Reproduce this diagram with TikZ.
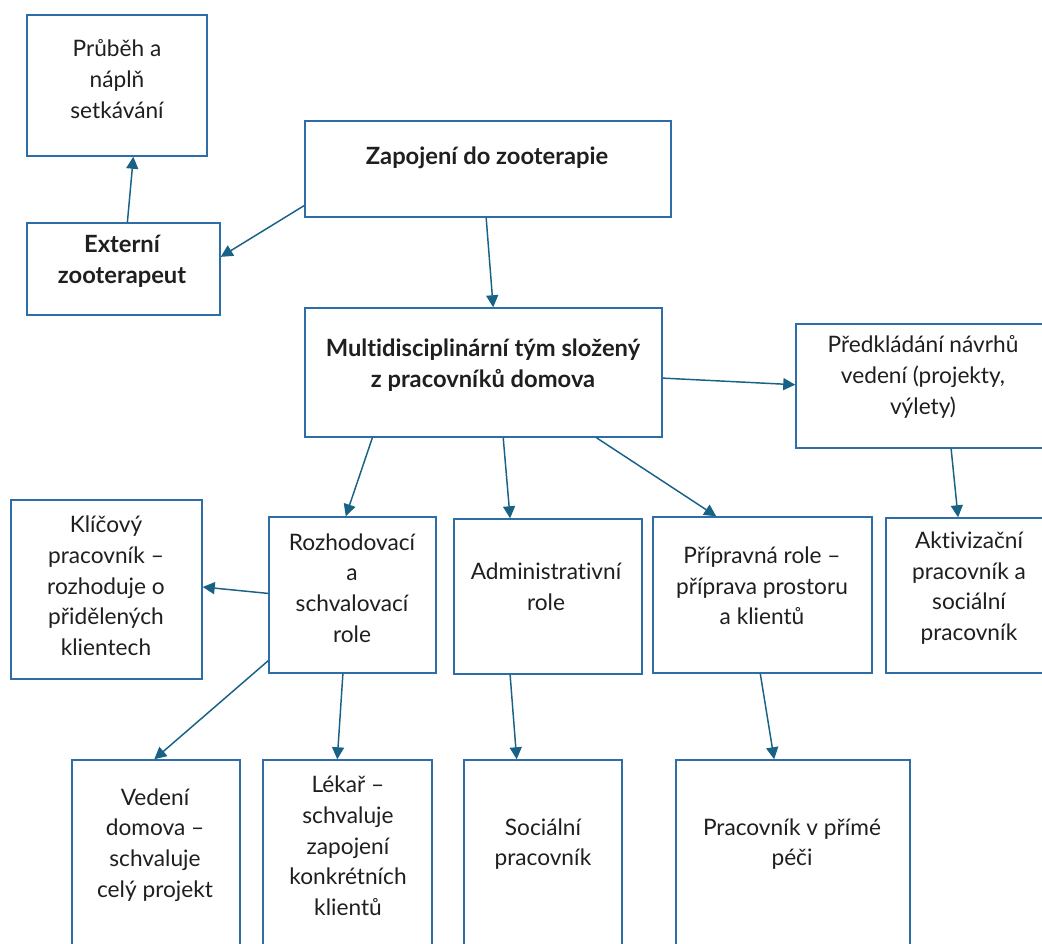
\documentclass[tikz,border=0pt]{standalone}
\usepackage{fontspec}
\setmainfont{Lato}[Ligatures=NoCommon]
\usetikzlibrary{arrows.meta,calc,fit}

\definecolor{boxblue}{RGB}{46,110,168}
\definecolor{arrowteal}{RGB}{24,98,134}

\tikzset{
  box/.style={draw=boxblue, line width=1.1pt, inner sep=0pt, fill=white},
  txt/.style={align=center, inner sep=0pt, text=black!88,
    font=\fontsize{17}{23}\selectfont},
  bold/.style={font=\fontsize{17.8}{23.5}\selectfont\bfseries},
  link/.style={draw=arrowteal, line width=1.1pt,
    -{Triangle[length=9pt,width=9pt]}},
}

\begin{document}
\begin{tikzpicture}[x=0.75pt, y=-0.75pt]
\useasboundingbox (0,0) rectangle (1042,944);
\clip (0,0) rectangle (1042,944);
\fill[white] (0,0) rectangle (1042,944);

% boxes
\node[box, fit={(27,15)(207,156)}]   (pru)  {};
\node[box, fit={(27,223)(220,315)}]  (ext)  {};
\node[box, fit={(305,121)(671,217)}] (zap)  {};
\node[box, fit={(305,308)(662,437)}] (tym)  {};
\node[box, fit={(796,324)(1050,448)}] (pred) {};
\node[box, fit={(886,518)(1050,673)}] (akt)  {};
\node[box, fit={(11,500)(202,679)}]  (klic) {};
\node[box, fit={(269,517)(436,673)}] (rozh) {};
\node[box, fit={(454,519)(642,674)}] (adm)  {};
\node[box, fit={(653,517)(872,673)}] (prip) {};
\node[box, fit={(72,760)(240,960)}]  (ved)  {};
\node[box, fit={(263,760)(432,960)}] (lek)  {};
\node[box, fit={(464,760)(622,960)}] (soc)  {};
\node[box, fit={(676,760)(910,960)}] (prac) {};

% box texts
\node[txt] (pru-t)  at (117,79)  {Průběh a\\náplň\\setkávání};
\node[txt, bold] (ext-t) at (122,261) {Externí\\zooterapeut};
\node[txt, bold] (zap-t) at (487,158) {Zapojení do zooterapie};
\node[txt, bold] (tym-t) at (483,365) {Multidisciplinární tým složený\\z pracovníků domova};
\node[txt] (pred-t) at (923,377) {Předkládání návrhů\\vedení (projekty,\\výlety)};
\node[txt] (akt-t)  at (969,588) {Aktivizační\\pracovník a\\sociální\\pracovník};
\node[txt] (klic-t) at (106,586) {Klíčový\\pracovník –\\rozhoduje o\\přidělených\\klientech};
\node[txt] (rozh-t) at (352,588) {Rozhodovací\\a\\schvalovací\\role};
\node[txt] (adm-t)  at (546,587) {Administrativní\\role};
\node[txt] (prip-t) at (762,586) {Přípravná role –\\příprava prostoru\\a klientů};
\node[txt] (ved-t)  at (155,845) {Vedení\\domova –\\schvaluje\\celý projekt};
\node[txt] (lek-t)  at (348,846) {Lékař –\\schvaluje\\zapojení\\konkrétních\\klientů};
\node[txt] (soc-t)  at (543,844) {Sociální\\pracovník};
\node[txt] (prac-t) at (792,844) {Pracovník v přímé\\péči};

% connectors
\draw[link] ($(ext.north west)!0.52!(ext.north east)$) -- ($(pru.south west)!0.59!(pru.south east)$);
\draw[link] ($(zap.north west)!0.875!(zap.south west)$) -- ($(ext.north east)!0.37!(ext.south east)$);
\draw[link] ($(zap.south west)!0.495!(zap.south east)$) -- ($(tym.north west)!0.527!(tym.north east)$);
\draw[link] ($(tym.north east)!0.543!(tym.south east)$) -- ($(pred.north west)!0.49!(pred.south west)$);
\draw[link] ($(tym.south west)!0.19!(tym.south east)$) -- ($(rozh.north west)!0.46!(rozh.north east)$);
\draw[link] ($(tym.south west)!0.555!(tym.south east)$) -- ($(adm.north west)!0.30!(adm.north east)$);
\draw[link] ($(tym.south west)!0.815!(tym.south east)$) -- ($(prip.north west)!0.29!(prip.north east)$);
\draw[link] ($(pred.south west)!0.61!(pred.south east)$) -- ($(akt.north west)!0.44!(akt.north east)$);
\draw[link] ($(rozh.north west)!0.49!(rozh.south west)$) -- ($(klic.north east)!0.486!(klic.south east)$);
\draw[link] ($(rozh.north west)!0.917!(rozh.south west)$) -- ($(ved.north west)!0.49!(ved.north east)$);
\draw[link] ($(rozh.south west)!0.443!(rozh.south east)$) -- ($(lek.north west)!0.44!(lek.north east)$);
\draw[link] ($(adm.south west)!0.30!(adm.south east)$) -- ($(soc.north west)!0.335!(soc.north east)$);
\draw[link] ($(prip.south west)!0.49!(prip.south east)$) -- ($(prac.north west)!0.42!(prac.north east)$);
\end{tikzpicture}
\end{document}
